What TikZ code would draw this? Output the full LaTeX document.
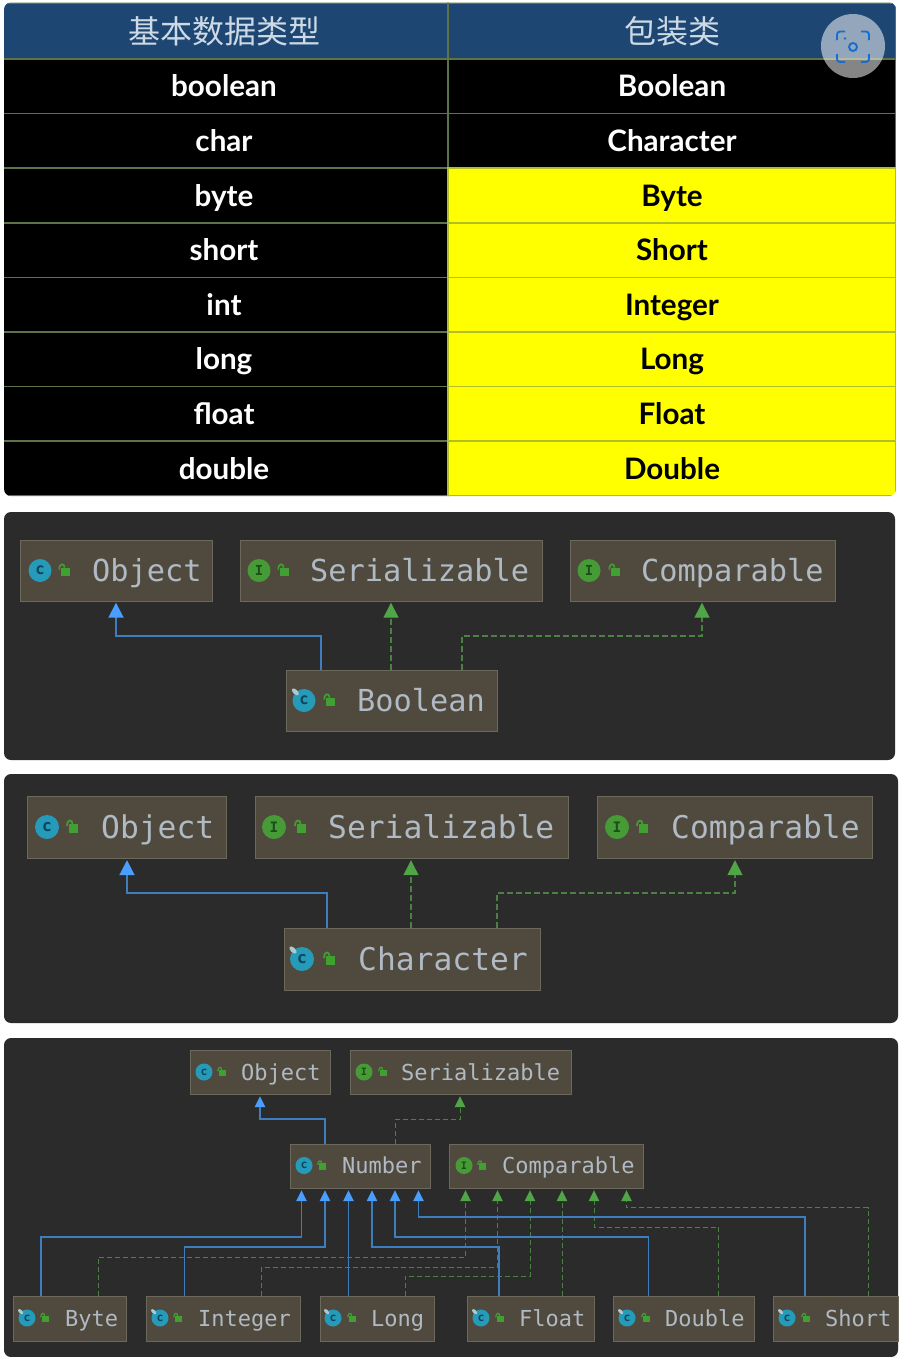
\documentclass[tikz,border=0pt]{standalone}
\usepackage{fontspec}
\usepackage{xcolor}
\usepackage{tikz}
\usetikzlibrary{positioning,arrows.meta,calc}
\newfontfamily\cjk{Noto Sans CJK SC}
\newfontfamily\rowfont{Lato}
\newfontfamily\codefont{DejaVu Sans Mono}
\definecolor{headbg}{RGB}{30,70,114}
\definecolor{headtx}{RGB}{205,218,230}
\definecolor{rule}{RGB}{92,116,72}
\definecolor{ruley}{RGB}{176,190,40}
\definecolor{yel}{RGB}{255,255,0}
\definecolor{panelbg}{RGB}{43,43,43}
\definecolor{boxbg}{RGB}{80,74,62}
\definecolor{boxln}{RGB}{108,104,92}
\definecolor{codetx}{RGB}{176,186,196}
\definecolor{extln}{RGB}{62,125,190}
\definecolor{exttip}{RGB}{74,158,255}
\definecolor{impln}{RGB}{74,130,66}
\definecolor{imptip}{RGB}{80,165,70}
\definecolor{clsdot}{RGB}{38,155,185}
\definecolor{clsdk}{RGB}{12,70,95}
\definecolor{ifcdot}{RGB}{70,155,55}
\definecolor{ifcdk}{RGB}{25,80,25}
\definecolor{lockc}{RGB}{65,160,50}
\definecolor{tagc}{RGB}{175,200,208}
\definecolor{camblue}{RGB}{20,110,210}
\tikzset{
  cell/.style={draw=rule,line width=1.5pt,outer sep=0pt,inner sep=0pt,minimum width=448pt,minimum height=54.6pt,align=center},
  headk/.style={cell,fill=headbg,text=headtx,minimum height=56pt,font=\cjk\fontsize{32}{32}\selectfont},
  rowk/.style={cell,fill=black,text=white,text height=21pt,text depth=0pt,font=\rowfont\bfseries\fontsize{29.6}{29.6}\selectfont},
  rowy/.style={rowk,fill=yel,text=black,draw=ruley},
  ubox/.style={draw=boxln,fill=boxbg,line width=1.2pt,anchor=north west,inner sep=0pt},
  uboxA/.style={ubox,minimum height=60.5pt},
  uboxB/.style={ubox,minimum height=62pt},
  uboxC/.style={ubox,minimum height=44.5pt},
  code/.style={anchor=west,inner sep=0pt,text=codetx,text depth=0pt},
  codeA/.style={code,text height=22pt,font=\codefont\fontsize{30.3}{30.3}\selectfont},
  codeB/.style={code,text height=22.6pt,font=\codefont\fontsize{31.3}{31.3}\selectfont},
  codeC/.style={code,text height=16pt,font=\codefont\fontsize{22}{22}\selectfont},
  ext/.style={-{Triangle[length=15pt,width=15pt,color=exttip]},extln,line width=1.9pt,shorten >=1pt},
  imp/.style={-{Triangle[length=15pt,width=15pt,color=imptip]},impln,line width=1.4pt,dash pattern=on 6pt off 3pt,shorten >=1pt},
  exts/.style={ext,-{Triangle[length=11pt,width=10.5pt,color=exttip]},line width=1.3pt},
  imps/.style={imp,-{Triangle[length=11pt,width=10.5pt,color=imptip]},line width=1pt,dash pattern=on 5pt off 3pt},
}
% icons: x, y, radius
\newcommand{\iconLock}[3]{%
  \begin{scope}[shift={(#1,#2)},scale=#3/12]
    \fill[lockc] (-4,-3) rectangle (5,6);
    \draw[lockc,line width=#3*0.14pt] (-6,-1) .. controls (-6,-8) and (-0.5,-8) .. (-0.5,-3);
  \end{scope}}
\newcommand{\iconCls}[5]{% name, x, y, radius, lock x
  \node[circle,fill=clsdot,text=clsdk,inner sep=0pt,minimum size=2*#4 pt,font=\codefont\bfseries\fontsize{\fpeval{#4*1.35}}{\fpeval{#4*1.35}}\selectfont] (#1) at (#2,#3) {c};
  \iconLock{#5}{#3}{#4}}
\newcommand{\iconIfc}[5]{%
  \node[circle,fill=ifcdot,text=ifcdk,inner sep=0pt,minimum size=2*#4 pt,font=\codefont\bfseries\fontsize{\fpeval{#4*1.2}}{\fpeval{#4*1.2}}\selectfont] (#1) at (#2,#3) {I};
  \iconLock{#5}{#3}{#4}}
\newcommand{\iconTag}[3]{% small pin on a final class
  \fill[tagc,rotate around={-45:(#1-.75*#3,#2-.75*#3)}] (#1-.75*#3,#2-.75*#3) ellipse ({.38*#3} and {.2*#3});}

\begin{document}
\begin{tikzpicture}[x=1pt,y=-1pt]
  \useasboundingbox (0,0) rectangle (902,1357);
  \fill[white] (0,0) rectangle (902,1357);
  % wrapper table
  \begin{scope}
    \clip[rounded corners=7pt] (4,2.5) rectangle (896,496);
    \node[headk,anchor=north west] (hPrim) at (0,3) {基本数据类型};
    \node[headk,right=0pt of hPrim] (hWrap) {包装类};
    \node[rowk,below=0pt of hPrim] (pBool) {boolean};
    \node[rowk,below=0pt of pBool] (pChar) {char};
    \node[rowk,below=0pt of pChar] (pByte) {byte};
    \node[rowk,below=0pt of pByte] (pShort) {short};
    \node[rowk,below=0pt of pShort] (pInt) {int};
    \node[rowk,below=0pt of pInt] (pLong) {long};
    \node[rowk,below=0pt of pLong] (pFloat) {float};
    \node[rowk,below=0pt of pFloat] (pDouble) {double};
    \node[rowk,below=0pt of hWrap] (wBool) {Boolean};
    \node[rowk,below=0pt of wBool] (wChar) {Character};
    \node[rowy,below=0pt of wChar] (wByte) {Byte};
    \node[rowy,below=0pt of wByte] (wShort) {Short};
    \node[rowy,below=0pt of wShort] (wInt) {Integer};
    \node[rowy,below=0pt of wInt] (wLong) {Long};
    \node[rowy,below=0pt of wLong] (wFloat) {Float};
    \node[rowy,below=0pt of wFloat] (wDouble) {Double};
  \end{scope}
  % capture button
  \fill[white,opacity=.52] (853,46) circle (32);
  \begin{scope}[camblue,line width=1.9pt,rounded corners=3pt]
    \draw (837,40) -- (837,31.5) -- (845,31.5);
    \draw (861,31.5) -- (869,31.5) -- (869,40);
    \draw (869,54) -- (869,62) -- (861,62);
    \draw (845,62) -- (837,62) -- (837,54);
  \end{scope}
  \draw[camblue,line width=1.9pt] (853,47) circle (4);
  \fill[camblue] (845,38.5) circle (1.3);
  % Boolean panel
  \fill[panelbg,rounded corners=7pt] (4,512) rectangle (895,760);
  \node[uboxA,minimum width=192pt] (objA) at (20,540) {};
  \node[uboxA,minimum width=302pt] (serA) at (240,540) {};
  \node[uboxA,minimum width=265pt] (cmpA) at (570,540) {};
  \node[uboxA,minimum width=211pt] (boolA) at (286,670) {};
  \iconCls{objAi}{40}{570.5}{11.5}{65}
  \iconIfc{serAi}{259}{570.5}{11.5}{284}
  \iconIfc{cmpAi}{589}{570.5}{11.5}{615}
  \iconCls{boolAi}{304}{700.5}{11.5}{330}
  \iconTag{304}{700.5}{11.5}
  \node[codeA] (objAt) at (92,570.5) {Object};
  \node[codeA] (serAt) at (310,570.5) {Serializable};
  \node[codeA] (cmpAt) at (641,570.5) {Comparable};
  \node[codeA] (boolAt) at (357,700.5) {Boolean};
  \draw[ext] (321,0 |- boolA.north) |- (116,636) -- (116,0 |- objA.south);
  \draw[imp] (391,0 |- boolA.north) -- (391,0 |- serA.south);
  \draw[imp] (462,0 |- boolA.north) |- (702,636) -- (702,0 |- cmpA.south);
  % Character panel
  \fill[panelbg,rounded corners=7pt] (4,774) rectangle (898,1023);
  \node[uboxB,minimum width=199pt] (objB) at (27,796) {};
  \node[uboxB,minimum width=313pt] (serB) at (255,796) {};
  \node[uboxB,minimum width=275pt] (cmpB) at (597,796) {};
  \node[uboxB,minimum width=256pt] (charB) at (284,928) {};
  \iconCls{objBi}{47}{827}{12}{73}
  \iconIfc{serBi}{274}{827}{12}{301}
  \iconIfc{cmpBi}{617}{827}{12}{643}
  \iconCls{charBi}{302}{959}{12}{330}
  \iconTag{302}{959}{12}
  \node[codeB] (objBt) at (101,827) {Object};
  \node[codeB] (serBt) at (328,827) {Serializable};
  \node[codeB] (cmpBt) at (671,827) {Comparable};
  \node[codeB] (charBt) at (358,959) {Character};
  \draw[ext] (327,0 |- charB.north) |- (127,893) -- (127,0 |- objB.south);
  \draw[imp] (411,0 |- charB.north) -- (411,0 |- serB.south);
  \draw[imp] (497,0 |- charB.north) |- (735,893) -- (735,0 |- cmpB.south);
  % Number panel
  \fill[panelbg,rounded corners=7pt] (4,1038) rectangle (898,1357);
  \node[uboxC,minimum width=140pt] (objC) at (190,1049.5) {};
  \node[uboxC,minimum width=221pt] (serC) at (350,1049.5) {};
  \node[uboxC,minimum width=140pt] (numC) at (290,1143.5) {};
  \node[uboxC,minimum width=194pt] (cmpC) at (449,1143.5) {};
  \node[uboxC,minimum width=113pt] (byteC) at (13,1296) {};
  \node[uboxC,minimum width=154pt] (intC) at (146,1296) {};
  \node[uboxC,minimum width=114pt] (longC) at (320,1296) {};
  \node[uboxC,minimum width=127pt] (floatC) at (467,1296) {};
  \node[uboxC,minimum width=141pt] (dblC) at (613,1296) {};
  \node[uboxC,minimum width=125pt] (shortC) at (773,1296) {};
  \iconCls{objCi}{204}{1072}{8.5}{222}
  \iconIfc{serCi}{364}{1072}{8.5}{383}
  \iconCls{numCi}{304}{1165.5}{8.5}{322}
  \iconIfc{cmpCi}{464}{1165.5}{8.5}{482}
  \iconCls{byteCi}{27}{1318}{8.5}{45}
  \iconCls{intCi}{160}{1318}{8.5}{178}
  \iconCls{longCi}{333}{1318}{8.5}{352}
  \iconCls{floatCi}{481}{1318}{8.5}{500}
  \iconCls{dblCi}{627}{1318}{8.5}{646}
  \iconCls{shortCi}{787}{1318}{8.5}{806}
  \iconTag{27}{1318}{8.5}
  \iconTag{160}{1318}{8.5}
  \iconTag{333}{1318}{8.5}
  \iconTag{481}{1318}{8.5}
  \iconTag{627}{1318}{8.5}
  \iconTag{787}{1318}{8.5}
  \node[codeC] (objCt) at (241,1072) {Object};
  \node[codeC] (serCt) at (401,1072) {Serializable};
  \node[codeC] (numCt) at (342,1165.5) {Number};
  \node[codeC] (cmpCt) at (502,1165.5) {Comparable};
  \node[codeC] (byteCt) at (65,1318) {Byte};
  \node[codeC] (intCt) at (198,1318) {Integer};
  \node[codeC] (longCt) at (371,1318) {Long};
  \node[codeC] (floatCt) at (519,1318) {Float};
  \node[codeC] (dblCt) at (665,1318) {Double};
  \node[codeC] (shortCt) at (825,1318) {Short};
  % arrows up from Number
  \draw[exts] (325,0 |- numC.north) |- (260,1119) -- (260,0 |- objC.south);
  \draw[imps] (395,0 |- numC.north) |- (460,1119) -- (460,0 |- serC.south);
  % arrows to Comparable
  \draw[imps] (98,0 |- byteC.north) |- (465.5,1257) -- (465.5,0 |- cmpC.south);
  \draw[imps] (261.5,0 |- intC.north) |- (497.5,1267) -- (497.5,0 |- cmpC.south);
  \draw[imps] (405,0 |- longC.north) |- (530,1276) -- (530,0 |- cmpC.south);
  \draw[imps] (562,0 |- floatC.north) -- (562,0 |- cmpC.south);
  \draw[imps] (718.7,0 |- dblC.north) |- (594,1227) -- (594,0 |- cmpC.south);
  \draw[imps] (868,0 |- shortC.north) |- (626.5,1207.7) -- (626.5,0 |- cmpC.south);
  % arrows to Number
  \draw[exts] (41,0 |- byteC.north) |- (301.5,1237) -- (301.5,0 |- numC.south);
  \draw[exts] (184.5,0 |- intC.north) |- (325,1247) -- (325,0 |- numC.south);
  \draw[exts] (348.5,0 |- longC.north) -- (348.5,0 |- numC.south);
  \draw[exts] (499,0 |- floatC.north) |- (372,1247) -- (372,0 |- numC.south);
  \draw[exts] (648.7,0 |- dblC.north) |- (395,1237) -- (395,0 |- numC.south);
  \draw[exts] (805,0 |- shortC.north) |- (418.5,1217) -- (418.5,0 |- numC.south);
\end{tikzpicture}
\end{document}
